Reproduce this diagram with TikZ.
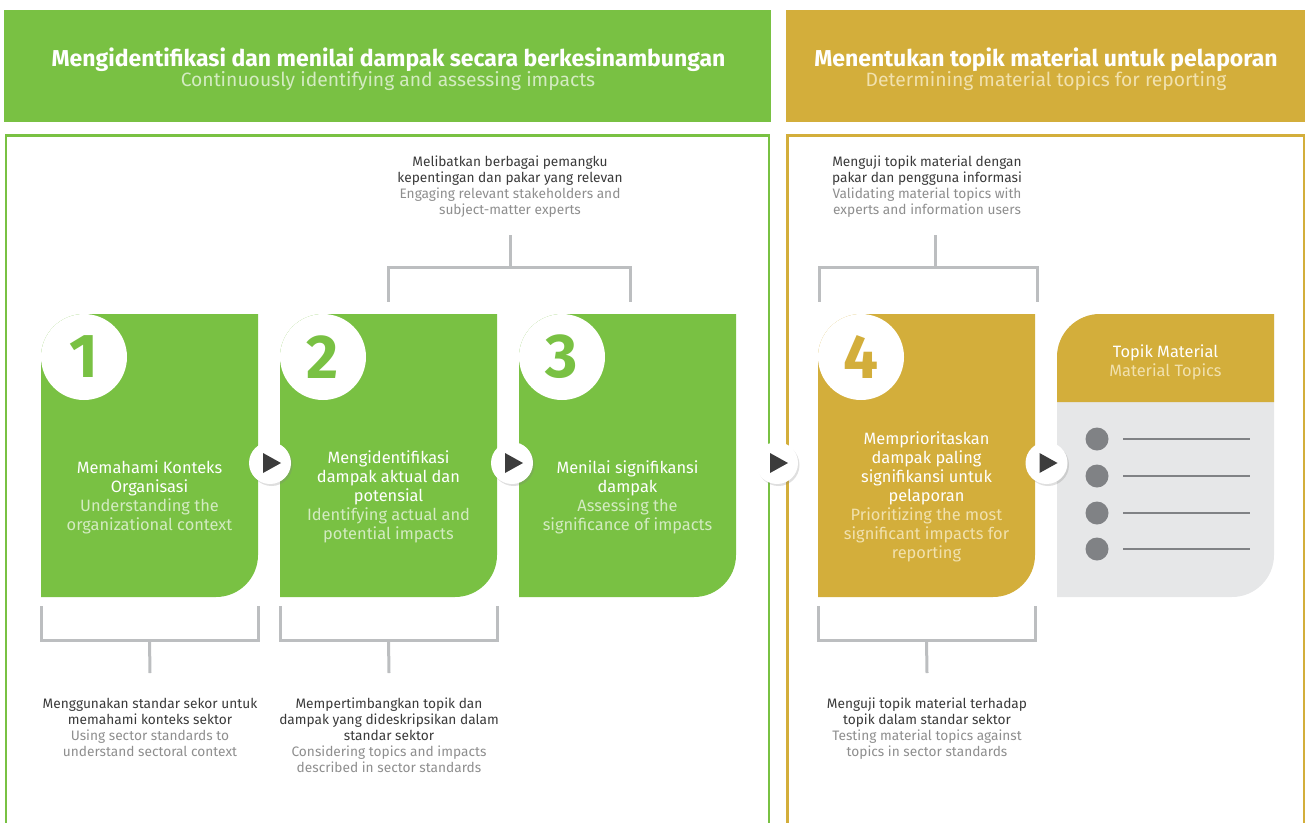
\documentclass[tikz,border=0pt]{standalone}
\usepackage{fontspec}
\setmainfont{Fira Sans}
\usepackage{xcolor}
\usetikzlibrary{positioning,calc,shadows}

\definecolor{grn}{HTML}{79C143}
\definecolor{gld}{HTML}{D3AE3B}
\definecolor{grnlt}{HTML}{D3EBC1}
\definecolor{gldlt}{HTML}{F1E1AE}
\definecolor{brkgrey}{HTML}{BCBEC0}
\definecolor{cardgrey}{HTML}{E6E7E8}
\definecolor{bulgrey}{HTML}{808285}
\definecolor{txtdark}{HTML}{3A3A3A}
\definecolor{txtgrey}{HTML}{8E8E8E}
\definecolor{playgrey}{HTML}{3C3C3C}

\tikzset{
  hdtitle/.style={text=white, inner sep=0, font=\fontsize{23}{26}\selectfont\bfseries},
  hdsub/.style={inner sep=0, font=\fontsize{19.3}{22}\selectfont},
  boxarea/.style={minimum width=217pt, minimum height=283pt, inner sep=0},
  boxtxt/.style={align=center, text=white, inner sep=0, font=\fontsize{16.4}{19}\selectfont},
  numcirc/.style={circle, fill=white, minimum size=86pt, inner sep=0, font=\fontsize{62}{62}\selectfont\bfseries},
  playcirc/.style={circle, fill=white, minimum size=42pt, inner sep=0,
    drop shadow={opacity=0.25, shadow xshift=1.5pt, shadow yshift=-2pt}},
  notetxt/.style={align=center, text=txtdark, inner sep=0, font=\fontsize{13.7}{16}\selectfont},
  brk/.style={brkgrey, line width=3pt},
}

% box with round top-left and bottom-right corners
\newcommand{\procbox}[3]{%
  \fill[#2] (#1,597) -- (#1,#3+314) arc(180:270:#3) -- (#1+217,314) -- (#1+217,555) arc(0:90:42) -- cycle;}
% lighter english line
\newcommand{\gl}{\color{grnlt}}
\newcommand{\dl}{\color{gldlt}}
\newcommand{\tl}{\color{txtgrey}}

\begin{document}
\begin{tikzpicture}[x=1pt,y=-1pt]
\useasboundingbox (0,0) rectangle (1305,822);
\clip (0,0) rectangle (1305,822);

% headers
\fill[grn] (4,10) rectangle (771,122);
\fill[gld] (786,10) rectangle (1305,122);
\node[hdtitle] (t1) at (388.5,60) {Mengidentifikasi dan menilai dampak secara berkesinambungan};
\node[hdsub, text=grnlt] (s1) at (388,81.5) {Continuously identifying and assessing impacts};
\node[hdtitle] (t2) at (1046,60) {Menentukan topik material untuk pelaporan};
\node[hdsub, text=gldlt] (s2) at (1046,81.5) {Determining material topics for reporting};

% frames (open at the bottom)
\draw[grn, line width=2.5pt] (6,830) -- (6,135.5) -- (769,135.5) -- (769,830);
\draw[gld, line width=2.5pt] (787.5,830) -- (787.5,135.5) -- (1304,135.5) -- (1304,830);

% step boxes
\procbox{41}{grn}{43}
\procbox{280}{grn}{43}
\procbox{519}{grn}{43}
\procbox{818}{gld}{43}
\node[boxarea] (b1) at (149.5,455.5) {};
\node[boxarea] (b2) at (388.5,455.5) {};
\node[boxarea] (b3) at (627.5,455.5) {};
\node[boxarea] (b4) at (926.5,455.5) {};

% material topics card
\procbox{1057}{cardgrey}{43}
\fill[gld] (1057,402) -- (1057,357) arc(180:270:43) -- (1274,314) -- (1274,402) -- cycle;
\node[boxarea] (card) at (1165.5,455.5) {};
\node[boxtxt] (ct) at (1165.5,362) {Topik Material\\\dl Material Topics};
\foreach \y in {439,476,513,549} {
  \fill[bulgrey] (1097,\y) circle (11.5);
  \draw[bulgrey, line width=2.5pt] (1123,\y) -- (1250,\y);
}

% box texts
\node[boxtxt] (x1) at (149.5,497) {Memahami Konteks\\Organisasi\\\gl Understanding the\\\gl organizational context};
\node[boxtxt] (x2) at (388.5,497) {Mengidentifikasi\\dampak aktual dan\\potensial\\\gl Identifying actual and\\\gl potential impacts};
\node[boxtxt] (x3) at (627.5,497) {Menilai signifikansi\\dampak\\\gl Assessing the\\\gl significance of impacts};
\node[boxtxt] (x4) at (926.5,497) {Memprioritaskan\\dampak paling\\signifikansi untuk\\pelaporan\\\dl Prioritizing the most\\\dl significant impacts for\\\dl reporting};

% numbers
\node[numcirc, text=grn] (c1) at (84,357) {1};
\node[numcirc, text=grn] (c2) at (323,357) {2};
\node[numcirc, text=grn] (c3) at (562,357) {3};
\node[numcirc, text=gld] (c4) at (861,357) {4};

% play buttons
\node[playcirc] (p1) at (270,463) {};
\node[playcirc] (p2) at (512,463) {};
\node[playcirc] (p3) at (777,463) {};
\node[playcirc] (p4) at (1046.5,463) {};
\foreach \p in {p1,p2,p3,p4}
  \fill[playgrey] ($(\p)+(-7,-10)$) -- ($(\p)+(11,0)$) -- ($(\p)+(-7,10)$) -- cycle;

% notes above
\node[notetxt, anchor=south] (n23) at (510,218) {Melibatkan berbagai pemangku\\kepentingan dan pakar yang relevan\\\tl Engaging relevant stakeholders and\\\tl subject-matter experts};
\node[notetxt, anchor=south] (n4) at (927,218) {Menguji topik material dengan\\pakar dan pengguna informasi\\\tl Validating material topics with\\\tl experts and information users};
\draw[brk] ($(b2.north)+(0,-12)$) -- ++(0,-34) -| ($(b3.north)+(3,-12)$);
\draw[brk] ($(n23.south)+(0,17)$) -- ++(0,33);
\draw[brk] ($(b4.north west)+(1.5,-12)$) -- ++(0,-34) -| ($(b4.north east)+(2,-12)$);
\draw[brk] ($(n4.south)+(8,17)$) -- ++(0,33);

% notes below
\node[notetxt, anchor=north] (nb1) at (150,698) {Menggunakan standar sekor untuk\\memahami konteks sektor\\\tl Using sector standards to\\\tl understand sectoral context};
\node[notetxt, anchor=north] (nb2) at (389,698) {Mempertimbangkan topik dan\\dampak yang dideskripsikan dalam\\standar sektor\\\tl Considering topics and impacts\\\tl described in sector standards};
\node[notetxt, anchor=north] (nb4) at (927,698) {Menguji topik material terhadap\\topik dalam standar sektor\\\tl Testing material topics against\\\tl topics in sector standards};
\foreach \b/\n in {b1/nb1,b2/nb2,b4/nb4} {
  \draw[brk] ($(\b.south west)+(1,9)$) -- ++(0,34) -| ($(\b.south east)+(0,9)$);
  \draw[brk] ($(\b.south)+(0,43)$) -- ($(\n.north)+(0,-25)$);
}
\end{tikzpicture}
\end{document}
